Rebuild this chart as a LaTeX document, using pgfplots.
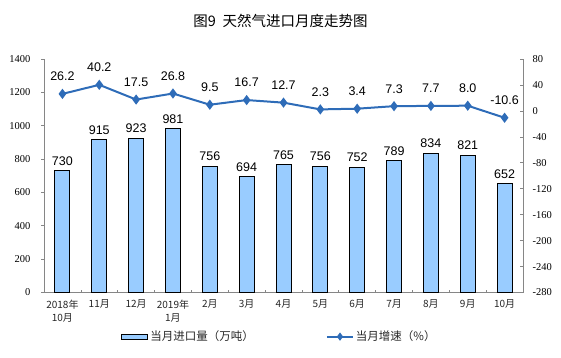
\documentclass[border=0pt]{standalone}
\usepackage{pgfplots}
\pgfplotsset{compat=1.18}
\usepackage{pgfplotstable}
\usepackage{fontspec}
\setmainfont{Liberation Serif}
\newfontfamily\cjk{Noto Sans CJK SC}
\newfontfamily\arial{Liberation Sans}
\definecolor{barblue}{RGB}{153,204,255}
\definecolor{lineblue}{RGB}{46,108,184}
\definecolor{axgray}{RGB}{134,134,134}

\pgfplotsset{
  barlegend/.style={legend image code/.code={\draw[##1] (0pt,-2.5pt) rectangle (26pt,2.5pt);}},
  linelegend/.style={legend image code/.code={\draw[mark repeat=2, mark phase=2, mark size=2.5pt, ##1] plot coordinates {(0pt,0pt) (13pt,0pt) (26pt,0pt)};}},
}

\pgfplotstableread{
x vol yoy
0 730 26.2
1 915 40.2
2 923 17.5
3 981 26.8
4 756 9.5
5 694 16.7
6 765 12.7
7 756 2.3
8 752 3.4
9 789 7.3
10 834 7.7
11 821 8.0
12 652 -10.6
}\datatable

\begin{document}
\begin{tikzpicture}[x=1pt,y=1pt]
\useasboundingbox (0,0) rectangle (561,357);
\node[font=\cjk\fontsize{14.5}{16}\selectfont] at (280.5,336) {图9\ \ 天然气进口月度走势图};
\begin{axis}[
  at={(44pt,64.5pt)}, anchor=south west, scale only axis,
  width=479pt, height=233.5pt,
  xmin=-0.5, xmax=12.5, ymin=0, ymax=1400,
  ytick={0,200,...,1400},
  axis y line*=left, axis x line*=bottom,
  axis line style={axgray, line width=0.8pt},
  /pgf/number format/assume math mode=true,
  /pgf/number format/1000 sep={},
  xtick={0,...,12},
  xticklabels={{2018年\\10月},11月,12月,{2019年\\1月},2月,3月,4月,5月,6月,7月,8月,9月,10月},
  xticklabel style={font=\cjk\fontsize{10}{13}\selectfont, align=center, yshift=-4pt, text=black!85},
  every major x tick/.append style={draw=none},
  minor x tick num=1,
  every minor x tick/.append style={axgray, line width=0.6pt},
  xtick align=inside,
  ytick align=outside,
  major tick length=3pt, minor tick length=3pt,
  every major y tick/.append style={axgray, line width=0.6pt},
  yticklabel style={font=\fontsize{10.5}{12}\selectfont, xshift=-7pt},
  clip=false,
]
\addplot[ybar, bar width=15pt, fill=barblue, draw=black, line width=1pt,
  nodes near coords,
  every node near coord/.append style={font=\arial\fontsize{12.5}{14}\selectfont, anchor=south, inner sep=0pt, yshift=5pt, text=black}]
  table[x=x, y=vol] {\datatable};
\end{axis}
\begin{axis}[
  at={(44pt,64.5pt)}, anchor=south west, scale only axis,
  width=479pt, height=233.5pt,
  xmin=-0.5, xmax=12.5, ymin=-280, ymax=80,
  ytick={-280,-240,...,80},
  axis y line*=right, axis x line=none,
  axis line style={axgray, line width=0.8pt},
  /pgf/number format/assume math mode=true,
  ytick align=inside, major tick length=3pt,
  every major y tick/.append style={axgray, line width=0.6pt},
  yticklabel style={font=\fontsize{10.5}{12}\selectfont, xshift=6pt},
  clip=false,
  legend style={at={(0.4917,-0.189)}, anchor=center, legend columns=2, draw=none, fill=none,
    font=\cjk\fontsize{11.5}{13}\selectfont, text=black!85,
    /tikz/every even column/.append style={column sep=70pt}},
]
\addlegendimage{fill=barblue, draw=black, line width=1pt, barlegend}
\addlegendentry{当月进口量（万吨）}
\addplot[lineblue, line width=2pt, mark=diamond*, mark size=3.5pt,
  mark options={solid, fill=lineblue}, linelegend,
  nodes near coords,
  /pgf/number format/.cd, fixed, fixed zerofill, precision=1, /pgfplots/.cd,
  every node near coord/.append style={font=\arial\fontsize{12.5}{14}\selectfont, anchor=south, inner sep=0pt, yshift=12pt, text=black}]
  table[x=x, y=yoy] {\datatable};
\addlegendentry{当月增速（\%）}
\end{axis}
\end{tikzpicture}
\end{document}
